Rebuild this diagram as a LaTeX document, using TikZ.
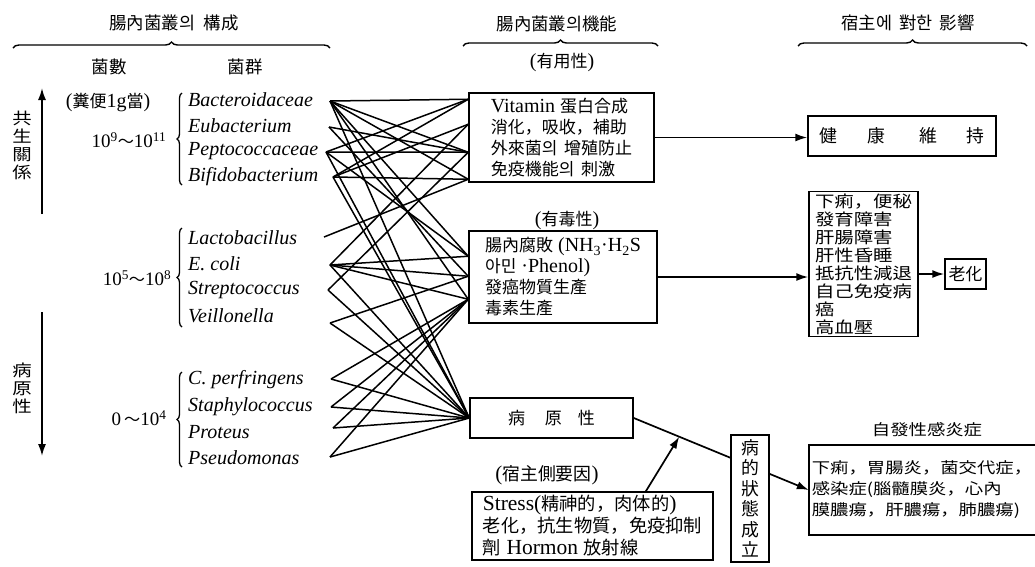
\documentclass[tikz,border=0pt]{standalone}
\usepackage{fontspec}
\setmainfont{Liberation Serif}
\newfontfamily\kr[Scale=0.85]{Noto Sans CJK KR}
\newfontfamily\krw[Scale=0.85,FakeStretch=1.2]{Noto Sans CJK KR}
\usetikzlibrary{decorations.pathreplacing,arrows.meta,calc}
\tikzset{
  box/.style={draw, line width=1.5pt, inner sep=2pt, align=left},
  lnk/.style={line width=1.5pt},
  arr/.style={line width=1.7pt, -{Latex[length=12pt,width=8pt]}},
  brc/.style={decorate, decoration={brace, amplitude=6pt}, line width=1.4pt},
  grp/.style={decorate, decoration={brace, amplitude=5pt}, line width=1.3pt},
  bac/.style={anchor=west, font=\fontsize{20}{24}\selectfont\itshape, inner sep=0pt},
  hd/.style={font=\fontsize{20.5}{24}\selectfont\kr},
  lbl/.style={font=\fontsize{20}{24}\selectfont},
  side/.style={font=\fontsize{19}{18}\selectfont\krw, align=center, inner sep=0pt},
}
\begin{document}
\begin{tikzpicture}[x=1pt,y=-1pt]
\useasboundingbox (0,0) rectangle (1035,566);

% headers
\node[hd] (h1) at (174,23) {腸內菌叢의\hspace{0.5em}構成};
\node[hd] (h2) at (557,24) {腸內菌叢의機能};
\node[hd] (h3) at (908,23) {宿主에\hspace{0.4em}對한\hspace{0.4em}影響};
\draw[brc] (13,48) -- (330,48);
\draw[brc] (463,46) -- (658,46);
\draw[brc] (798,46) -- (1027,46);

\node[hd] (c1) at (109,67) {菌數};
\node[hd] (c2) at (245,67) {菌群};
\node[lbl] (per) at (108,103) {({\kr 糞便}1g{\kr 當})};

% side labels and arrows
\node[side] (sym) at (22,145) {共\\生\\關\\係};
\node[side] (pat) at (22,388) {病\\原\\性};
\coordinate (u0) at (42,214);
\coordinate (u1) at (42,88);
\coordinate (d0) at (42,312);
\coordinate (d1) at (42,456);
\draw[arr] (u0) -- (u1);
\draw[arr] (d0) -- (d1);

% counts
\node[lbl, font=\fontsize{19}{24}\selectfont] (n1) at (129,140) {10\textsuperscript{9}{\kr ～}10\textsuperscript{11}};
\node[lbl, font=\fontsize{19}{24}\selectfont] (n2) at (137,278) {10\textsuperscript{5}{\kr ～}10\textsuperscript{8}};
\node[lbl, font=\fontsize{19}{24}\selectfont] (n3) at (139,418) {0\,{\kr ～}10\textsuperscript{4}};
\draw[grp] (182,185) -- (182,93);
\draw[grp] (182,327) -- (182,228);
\draw[grp] (182,467) -- (182,372);

% bacteria
\node[bac] (bA) at (188,100) {Bacteroidaceae};
\node[bac] (bB) at (188,126) {Eubacterium};
\node[bac] (bC) at (188,151) {Peptococcaceae};
\node[bac] (bD) at (188,177) {Bifidobacterium};
\node[bac] (bE) at (188,238) {Lactobacillus};
\node[bac] (bF) at (188,264) {E. coli};
\node[bac] (bG) at (188,290) {Streptococcus};
\node[bac] (bH) at (188,316) {Veillonella};
\node[bac] (bI) at (188,380) {C. perfringens};
\node[bac] (bJ) at (188,407) {Staphylococcus};
\node[bac] (bK) at (188,432) {Proteus};
\node[bac] (bL) at (188,458) {Pseudomonas};

\coordinate (sA) at (330,101);
\coordinate (sB) at (329,127);
\coordinate (sC) at (326,152);
\coordinate (sD) at (333,177);
\coordinate (sE) at (324,237);
\coordinate (sF) at (330,265);
\coordinate (sG) at (328,290);
\coordinate (sH) at (330,323);
\coordinate (sI) at (331,379);
\coordinate (sJ) at (331,407);
\coordinate (sK) at (333,428);
\coordinate (sL) at (330,457);

% function boxes
\node[lbl] (use) at (562,62) {({\kr 有用性})};
\node[box, font=\fontsize{20}{21}\selectfont, minimum width=185, minimum height=89] (b1) at (561.5,137.5)
 {Vitamin {\kr 蛋白合成}\\{\kr 消化，吸收，補助}\\{\kr 外來菌의\hspace{0.4em}增殖防止}\\{\kr 免疫機能의\hspace{0.4em}刺激}};
\node[lbl] (tox) at (567,220) {({\kr 有毒性})};
\node[box, font=\fontsize{20}{21}\selectfont, minimum width=188, minimum height=92] (b2) at (563,277)
 {{\kr 腸內腐敗} (NH\textsubscript{3}·H\textsubscript{2}S\\{\kr 아민} ·Phenol)\\{\kr 發癌物質生產}\\{\kr 毒素生產}};
\node[box, font=\fontsize{20}{24}\selectfont\kr, minimum width=163, minimum height=40] (b3) at (551.5,418)
 {病\hspace{20pt}原\hspace{16pt}性};
\node[lbl, font=\fontsize{21}{24}\selectfont] (host) at (547,475) {({\kr 宿主側要因})};
\node[box, font=\fontsize{21.5}{22}\selectfont, minimum width=241, minimum height=68] (b4) at (592.5,526)
 {Stress({\kr 精神的，肉体的})\\{\kr 老化，抗生物質，免疫抑制}\\{\kr 劑}\ Hormon {\kr 放射線}};

\coordinate (t1a) at ($(b1.north west)+(0,7)$);
\coordinate (t1b) at ($(b1.north west)+(0,32)$);
\coordinate (t1c) at ($(b1.north west)+(0,60)$);
\coordinate (t1d) at ($(b1.north west)+(0,87)$);
\coordinate (t2a) at ($(b2.north west)+(0,26)$);
\coordinate (t2b) at ($(b2.north west)+(0,46)$);
\coordinate (t2c) at ($(b2.north west)+(0,69)$);
\coordinate (t3) at (b3.west);

\foreach \s/\t in {sA/t1a, sA/t1c, sA/t1d, sA/t2a, sA/t2c, sA/t3,
                   sB/t1c, sB/t2b,
                   sC/t1c, sC/t1a, sC/t2a, sC/t3,
                   sD/t1a, sD/t1b, sD/t1d, sD/t3,
                   sE/t1d,
                   sF/t1b, sF/t2a, sF/t2b, sF/t2c, sF/t3,
                   sG/t1c, sG/t3,
                   sH/t2b, sH/t3,
                   sI/t2c, sI/t3,
                   sJ/t2c, sJ/t3,
                   sK/t2c, sK/t3,
                   sL/t2c, sL/t3}
  \draw[lnk] (\s) -- (\t);

% effects
\node[box, font=\fontsize{21}{24}\selectfont\kr, minimum width=188, minimum height=40] (b6) at (902,136)
 {健\hspace{30pt}康\hspace{34pt}維\hspace{30pt}持};
\node[box, font=\fontsize{19}{18}\selectfont\krw, minimum width=109, minimum height=142] (b7) at (863.5,264)
 {下痢，便秘\\發育障害\\肝腸障害\\肝性昏睡\\抵抗性減退\\自己免疫病\\癌\\高血壓};
\node[box, font=\fontsize{20}{24}\selectfont\kr, minimum width=41, minimum height=30] (b8) at (965.5,274) {老化};
\node[font=\fontsize{18}{21}\selectfont\krw] (t9) at (927,430) {自發性感炎症};
\node[font=\fontsize{18}{21}\selectfont\krw, align=left, minimum width=226, minimum height=90, inner sep=2pt] (b9) at (922,490)
 {下痢，胃腸炎，菌交代症，\\感染症(腦髓膜炎，心內\\膜膿瘍，肝膿瘍，肺膿瘍)};
\draw[line width=1.5pt] (b9.north east) -- (b9.north west) -- (b9.south west) -- (b9.south east);

\draw[arr] (b1.east) -- (b1.east -| b6.west);
\draw[arr] (b2.east) -- (b2.east -| b7.west);
\draw[arr] (b7.east |- b8.west) -- (b8.west);
\draw[arr] (b3.east) -- (b9.west);
\coordinate (hit) at ($(b3.east)!0.26!(b9.west)$);
\draw[arr] ($(b4.north west)!0.72!(b4.north east)$) -- (hit);

\node[box, fill=white, font=\fontsize{21}{20.5}\selectfont\kr, align=center, minimum width=38, minimum height=127] (b5) at (750,498.5)
 {病\\的\\狀\\態\\成\\立};
\end{tikzpicture}
\end{document}
